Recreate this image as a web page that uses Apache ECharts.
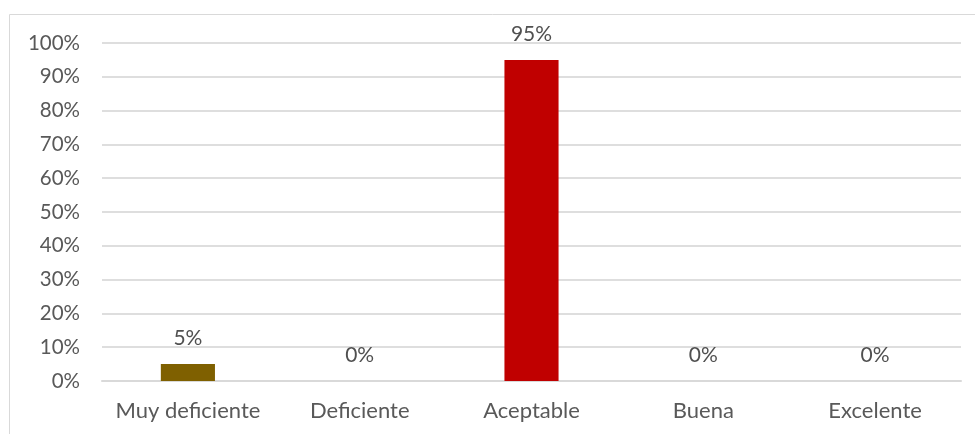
<!DOCTYPE html>
<html><head><meta charset="utf-8">
<script src="https://cdn.jsdelivr.net/npm/echarts@6/dist/echarts.min.js"></script>
<style>html,body{margin:0;padding:0;background:#fff}#c{width:975px;height:434px}</style>
</head><body><div id="c"></div>
<script>
const categories = ['Muy deficiente','Deficiente','Aceptable','Buena','Excelente'];
const values = [5, 0, 95, 0, 0];
const barColors = ['#7F6000','#7F6000','#C00000','#C00000','#C00000'];
const yTicks = [0,10,20,30,40,50,60,70,80,90,100];

const chart = echarts.init(document.getElementById('c'));
const FONT = 'Lato';
chart.setOption({
  animation:false,
  graphic:[{type:'rect',shape:{x:9.5,y:14.5,width:1000,height:500},style:{fill:'none',stroke:'#d9d9d9',lineWidth:1},silent:true,z:-1}],
  grid:{left:102,right:14,top:43,bottom:53},
  xAxis:{type:'category',data:categories,
    axisLine:{show:true,lineStyle:{color:'#d9d9d9',width:2}},
    axisTick:{show:false},
    axisLabel:{interval:0,hideOverlap:false,color:'#595959',fontFamily:FONT,fontSize:22,margin:19}},
  yAxis:{type:'value',min:0,max:100,interval:10,
    axisLine:{show:false},axisTick:{show:false},
    splitLine:{lineStyle:{color:'#dedede',width:2}},
    axisLabel:{color:'#595959',fontFamily:FONT,fontSize:20.5,margin:22,formatter:v=>v+'%'}},
  series:[{type:'bar',barWidth:'31.5%',
    data:values.map((v,i)=>({value:v,itemStyle:{color:barColors[i]}})),
    label:{show:true,position:'top',distance:15,color:'#505050',fontFamily:FONT,fontSize:21,formatter:p=>p.value+'%'}}]
});
</script></body></html>
